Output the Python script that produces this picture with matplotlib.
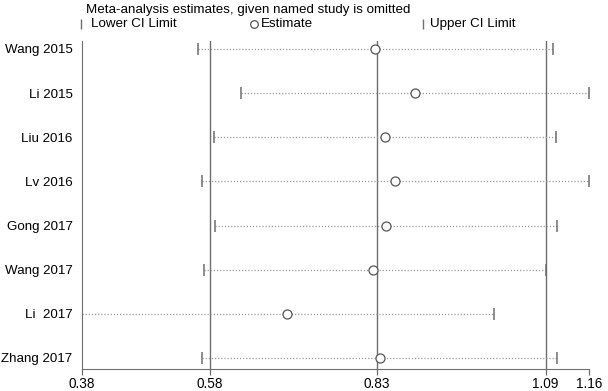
import numpy as np
import matplotlib.pyplot as plt

plt.rcParams['font.family'] = ['Liberation Sans', 'DejaVu Sans']

# 数据
studies = ["Wang 2015", "Li 2015", "Liu 2016", "Lv 2016",
           "Gong 2017", "Wang 2017", "Li  2017", "Zhang 2017"]
estimate = [0.830, 0.892, 0.846, 0.861, 0.847, 0.828, 0.696, 0.838]
lower = [0.558, 0.624, 0.583, 0.565, 0.585, 0.567, 0.380, 0.565]
upper = [1.104, 1.160, 1.109, 1.159, 1.111, 1.093, 1.013, 1.111]

# 合并效应量及其置信区间
pooled = [0.577, 0.834, 1.093]
xticks = [0.38, 0.577, 0.834, 1.093, 1.16]
xticklabels = ["0.38", "0.58", "0.83", "1.09", "1.16"]

grey = '#6e6e6e'

fig = plt.figure(figsize=(6.08, 3.91), dpi=100)
ax = fig.add_axes([0.1349, 0.0563, 0.969 - 0.1349, 0.895 - 0.0563])

y = np.arange(1, len(studies) + 1)

for v in pooled:
    ax.axvline(v, color=grey, lw=1.0, zorder=1)

ax.hlines(y, lower, upper, colors='#9a9a9a', linestyles=(0, (1, 1.5)), lw=0.9, zorder=2)
ax.plot(lower, y, ls='none', marker='|', ms=8, mew=1.1, color=grey, zorder=3)
ax.plot(upper, y, ls='none', marker='|', ms=8, mew=1.1, color=grey, zorder=3)
ax.plot(estimate, y, ls='none', marker='o', ms=6.5, mfc='white', mec='#555555',
        mew=0.9, zorder=4)

ax.set_xlim(0.38, 1.16)
ax.set_ylim(8.25, 0.82)
ax.set_yticks(y)
ax.set_yticklabels(studies, fontsize=9.6)
ax.tick_params(axis='y', length=0, pad=6.8)
ax.set_xticks(xticks)
ax.set_xticklabels(xticklabels, fontsize=9.8)
ax.tick_params(axis='x', length=4, width=0.9, color=grey, pad=1.5)

ax.spines['top'].set_visible(False)
ax.spines['right'].set_visible(False)
ax.spines['left'].set_color(grey)
ax.spines['bottom'].set_color(grey)

# 图例 (手动)
fig.text(86 / 608, 1 - 9.5 / 391, "Meta-analysis estimates, given named study is omitted",
         fontsize=9.6, va='center', ha='left')
ly = 1 - 24 / 391
tf = fig.transFigure
ax.plot([81 / 608], [ly], marker='|', ms=7, mew=1, color=grey, transform=tf, clip_on=False)
fig.text(91 / 608, ly, "Lower CI Limit", fontsize=9.6, va='center', ha='left')
ax.plot([254 / 608], [ly], marker='o', ms=5.5, mfc='white', mec='#555555', mew=0.9,
        transform=tf, clip_on=False)
fig.text(261 / 608, ly, "Estimate", fontsize=9.6, va='center', ha='left')
ax.plot([423 / 608], [ly], marker='|', ms=7, mew=1, color=grey, transform=tf, clip_on=False)
fig.text(430 / 608, ly, "Upper CI Limit", fontsize=9.6, va='center', ha='left')

plt.savefig("out.png", dpi=100)
